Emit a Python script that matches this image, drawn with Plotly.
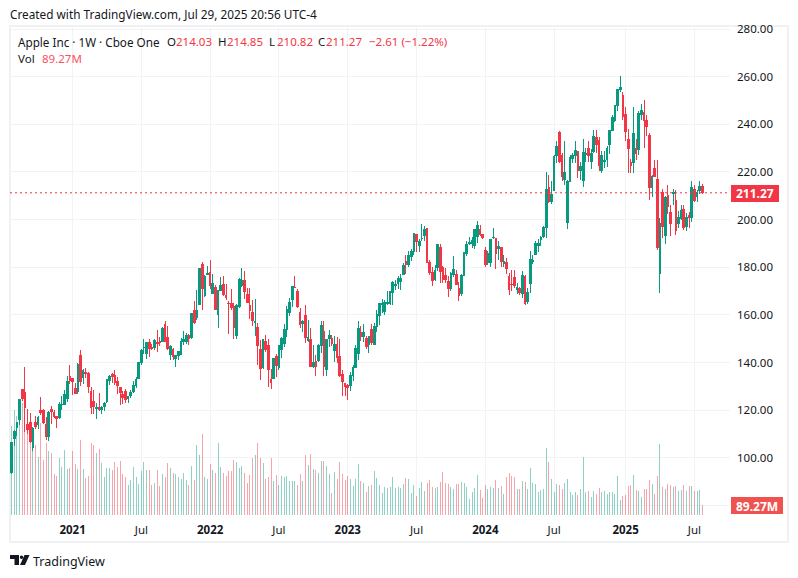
import pandas as pd
import plotly.graph_objects as go

# weekly AAPL bars, one entry per week
dates = pd.date_range("2020-07-27", periods=262, freq="7D")

opens = [93.7,108.2,112.6,116,128.7,127.6,113.9,114.7,104.5,115,113.9,120,120,114,109.1,120.5,118.9,117.2,117,122.3,
 122.6,125,134,133.5,129.2,127.8,143,133.8,136,135.5,128,123.8,120.9,121,120.3,121.7,123.9,132.5,135,134.8,
 132,129.4,126.8,127.8,125,126.2,127.8,130.3,133.4,140,146.2,143.8,148.3,146.4,146.2,148.5,149,148.9,156,150.6,
 143.4,145.5,141.8,143,143.5,148.7,149,151.4,150.4,161.7,159,164.3,181.1,168.3,177,177.8,169,171.5,160,170.2,
 172.9,168,165,164.7,163.4,151.5,163.5,172.2,174.6,168.7,163.9,161,156.7,154.9,145.5,137.8,149,147,132.9,133.4,
 142.7,137.8,145.7,147.9,154,161,166.4,171.5,169.7,161,156.5,159.6,149.3,149.7,138.2,140.4,141,147.2,153,137,
 150.2,150,145.1,147.8,142.7,135.1,131.4,130.3,130.5,134.8,138.1,144,152.6,151,150.2,147.7,153.8,147.8,155.1,159.9,
 164.3,161.4,165,165,169.3,172.5,173.2,174,177,182.6,181.3,184.4,186.8,193.8,189.3,191.9,193.4,196.2,182.1,178,
 175,180,188.3,180,176.5,174.2,171.2,176.8,176.8,170.9,169,176.4,185.8,189.9,189.8,189,193,196,193.6,187.2,
 182,182.2,192.3,192,188,188.4,181.8,182.2,176,172.9,175.6,170.6,171.2,169,176,165.5,173.4,182.4,185.4,189.3,
 191.5,192.9,196.9,213.4,207.7,212.1,227,236.5,227,217,199,216,225.7,226.8,228.5,220.8,216.5,227.3,230,224.5,
 228.7,234.5,233.3,220.8,224.5,225.3,231.5,237.3,241.8,248,254.8,252.2,244.3,233.5,224,224,230,229.6,244.2,244.9,
 241.8,235.5,213.3,221.4,217,177.2,211.4,193.3,210,203.1,211,207.9,198.3,200.3,204.4,197.2,201.6,200.8,212.7,209.9,
 212.1,214.03]
highs = [106.4,111.6,115,124.9,128.8,138,120.5,118.8,112.9,117.7,117.7,125.4,120.4,117.3,119.6,122,120,117.6,123.5,126,
 128.4,134.4,138.8,133.6,131.5,139.7,145.1,137.4,137.9,136,129.7,128.7,123.2,127.2,121.7,123.5,133,135,135.5,137.1,
 134,129.5,128,129,125.4,128.5,132.5,133.8,140,145.6,150,148.7,150,148,150,153.5,150.9,155,157.3,155.5,
 147.5,146,143.2,144.9,150.2,153.2,152.4,152,161,165.7,170.3,179.6,182.1,176.9,180.4,182.9,177,172.5,170.4,176,
 176.2,173,166,170.7,165,164.5,175.7,179.6,178.5,171.3,171.3,166.2,166.5,156.7,149.7,149.7,151.7,149.9,137.3,141.9,
 143.5,147.4,150.9,156.3,163.6,167.2,172.2,176.2,171,162.9,157.8,164.3,158,154.7,147.5,143.1,147.9,157.5,157.5,150,
 153.6,151.8,151,150.9,150,137,131.4,130.9,136.2,139,147.2,157.4,155.2,156.3,151.3,151.1,156.3,156.7,162.1,165,
 166.8,166.3,169.9,169.9,174.3,174.6,176.4,177.4,181.8,185,187,187.6,194.5,193.9,191.7,198.2,197.2,196.7,183.1,180,
 181,189.9,189.9,180.4,179.8,176.3,178,184.9,179,174,177,186.6,191,192.9,192.9,196,199.6,197.7,194,188.4,
 187,192,196.4,192.2,191,188.7,185,183.9,177.7,179,178.7,173.6,171.9,178.4,176.6,171.3,187,185.1,191,191.9,
 193,197.3,220.2,218.9,216.1,227,233.1,237.2,228,232.9,216.8,227,228,233,229,224,233.8,230,233,229.8,
 237.5,237.5,234.7,228.7,228.9,230.7,237.8,244,248.2,255,260.1,253.5,247.3,238,225.6,247.2,234,245.6,248.7,250,
 244,236.2,218.8,225,225.2,200.6,212.9,209.8,214.6,206,213,212.6,203.8,206,206,202.6,203.2,216.2,214.7,212.4,
 216.2,214.85]
lows = [93.2,105,109.1,114,123.9,110.9,110,106.1,103.1,112.2,112.2,118.2,114.3,107.7,107.3,114.1,116.8,112.5,116.4,120.2,
 122.3,123.5,131,126.4,126.9,126.9,130.2,130.9,133.7,127.4,118.4,118.4,116.2,119.7,118.6,119.9,123.1,130.6,131.3,130.6,
 126.7,122.3,122.7,123.1,123.1,125.2,127.1,129.2,133.4,139,143.6,141.7,142.5,145.2,145.2,144.5,146.8,148.7,148.7,145.5,
 141.3,141.3,138.3,141,143.2,147.5,147.8,147.5,150,156.4,157.8,164.3,162,167.5,177,171,169,162.3,154.7,170,
 168,166.2,152,162,150,150.1,163,171.8,166.6,164.9,158.5,155.4,151,138.8,132.6,137.4,144.5,129.8,129,133,
 133.8,137,142.1,146.7,150.8,159.6,163.5,171.3,163.1,154.7,152.7,148.4,148.6,138,137.7,134.4,140.3,144.1,134.4,134.4,
 146.6,146.9,140.4,140,134,125.9,125.9,124.2,128.1,132.2,137.9,141.3,149.2,148.6,145.7,143.9,147.6,147.6,153,155.8,
 161,159.8,164,164.3,164.3,170.4,170.9,170.5,176.6,177.4,180,182.6,185.2,186.6,186.6,191,191,181.9,176.6,172,
 174.3,178.5,173.5,173.6,173.6,167.6,170,175.8,172.6,165.7,167.9,176.2,184.9,189.2,188.2,187.5,190,193.2,191.7,180.2,
 180.9,180.3,192,179.3,183,180.3,180,177.4,168.5,170,171.4,168.9,168.2,167.1,164.1,164.8,169.1,181.5,185.3,186.6,
 189.1,192.2,192.2,207,206.6,211.9,223.6,223.8,216.2,214.6,196,216,223.9,223.9,217.5,216.7,213.9,224,224,221.3,
 228,227.8,220.3,219.7,221.5,222.3,227.5,237.2,241,245.7,253.7,241.8,233,219.4,219.5,219.4,225.2,227.2,241.8,230.2,
 235.3,208.4,209.6,217.7,187.3,169.2,192.4,189.8,202.2,193.2,206,193.5,196.3,200,195.7,195.2,196.6,199,207.2,207.5,
 210.9,210.82]
closes = [106.3,111.1,114.9,124.4,124.8,121,112,106.8,112.3,113,116.97,119,115,108.9,119,119.3,117.3,116.6,122.25,122.4,
 126.7,132,132.7,132,127.1,139.1,132,136.8,135.4,129.9,121.3,121.4,121,120.5,121.2,123,133,134.2,134.3,131.5,
 130.2,127.5,125.4,124.6,125.9,127.4,130.5,133.1,140,145.1,146.4,148.6,146,146.1,149.1,148.2,148.6,154.3,149,146.1,
 146.9,142.7,142.9,144.8,148.7,149.8,151.3,150,160.6,156.8,161.8,179.5,171.1,176.3,177.6,172.2,173.1,162.4,170.3,172.4,
 168.6,167.3,164.9,163.2,154.7,164,174.7,174.3,170,165.3,161.8,157.7,157.3,147.1,137.6,149.6,145.4,137.1,131.6,141.7,
 138.9,147,150.2,154.1,162.5,165.4,172.1,171.5,163.6,155.8,157.4,150.7,150.4,138.2,140.1,138.4,147.3,155.7,138.4,149.7,
 151.3,148.1,147.8,142.2,134.5,131.9,129.9,129.6,134.8,137.9,145.9,154.5,151,152.6,146.7,151,148.5,155,160.3,164.9,
 165,165.2,165.1,169.7,173.6,172.6,175.2,175.4,180.96,181,184.9,186.7,194,190.7,190.7,191.9,195.8,182,177.8,174.5,
 178.6,189.5,178.2,175,174.8,171.2,177.5,178.9,172.9,168.2,176.7,186.4,189.7,190.4,191.2,195.7,197.6,193.6,192.5,181.2,
 185.9,191.6,192.4,185.9,188.9,182.3,182.5,179.7,170.7,172.6,172.3,171.5,169.6,176.6,165,169.3,183.4,183,189.9,190,
 192.4,196.9,212.5,207.5,210.6,226.3,230.5,224.3,218,219.9,216.2,226,226.8,229,220.8,222.5,228.2,227.8,226.8,227.6,
 235,231.4,222.9,227,225,229.9,237.3,242.8,248.1,254.5,255.6,243.4,236.9,230,222.8,236,227.6,244.6,245.6,241.8,
 239.1,213.5,218.3,217.9,188.4,198.2,197,209.3,205.4,198.5,211.3,195.3,200.9,203.9,196.5,201,201.1,213.6,208,211.2,
 213.9,211.27]
# volume in millions of shares
volumes = [795,938,884,1027,997,1012,893,902,580,625,515,819,491,640,572,551,366,348,509,426,
 580,411,423,572,456,411,670,411,331,348,643,625,557,586,467,342,420,420,402,473,
 429,485,366,339,268,313,429,339,277,396,473,402,402,268,286,402,259,366,339,467,
 420,378,366,339,322,378,313,268,438,313,625,536,723,339,322,455,402,378,643,429,
 378,348,393,393,491,473,420,438,378,286,360,509,536,643,509,467,322,339,509,304,
 357,268,348,339,348,304,304,304,265,366,304,536,447,545,411,402,378,482,482,438,
 366,196,387,322,473,366,313,348,322,259,322,455,304,283,205,259,270,393,330,268,
 196,250,241,250,339,241,250,
 238,277,327,319,194,268,170,238,295,217,286,313,250,241,250,295,384,286,277,253,
 229,277,277,295,286,253,143,205,241,357,223,152,268,232,250,241,313,241,259,188,
 339,375,348,339,232,232,304,295,232,420,286,277,205,223,232,598,473,322,205,277,
 268,232,286,322,205,179,205,179,232,518,205,214,161,214,188,241,205,214,188,205,
 205,188,348,134,170,179,259,268,357,223,214,161,232,232,313,277,188,348,634,250,
 232,277,268,250,259,214,223,268,214,259,259,214,214,223,89.27]

tick_dates = ["2021-01-04","2021-07-05","2022-01-03","2022-07-04","2023-01-02","2023-07-03","2024-01-01","2024-07-01","2025-01-06","2025-07-07"]
tick_text = ["<b>2021</b>","Jul","<b>2022</b>","Jul","<b>2023</b>","Jul","<b>2024</b>","Jul","<b>2025</b>","Jul"]
price_ticks = [80,100,120,140,160,180,200,220,240,260,280]
price_text = [""] + [f"{p:.2f}" for p in price_ticks[1:]]

UP = "#089981"
DOWN = "#F23645"
GRID = "#F2F3F5"
FONT = "Noto Sans"
W, H = 798, 578
L, R, T, B = 10, 68, 27, 63


def px(x):
    return (x - L) / (W - L - R)


def py(y):
    return 1 - (y - T) / (H - T - B)


def label(x, y, text, color="#131722", size=12, anchor="left"):
    # annotations carry about 2px of padding around the text
    if anchor == "left":
        x -= 2
    return dict(x=px(x), y=py(y), xref="paper", yref="paper", text=text, showarrow=False,
                xanchor=anchor, yanchor="middle", font=dict(family=FONT, size=size, color=color))


vol_colors = [
    "rgba(8,153,129,0.45)" if c >= o else "rgba(242,54,69,0.45)"
    for o, c in zip(opens, closes)
]

week = pd.Timedelta(days=7)
x_range = [dates[0] - 0.64 * week, dates[-1] + 10.47 * week]
# one screen pixel along x, so each volume bar rounds to a single pixel
bar_px = (x_range[1] - x_range[0]).total_seconds() * 1000 / (W - L - R) * 1.001

fig = go.Figure()
fig.add_trace(go.Bar(x=dates, y=volumes, marker=dict(color=vol_colors, line_width=0),
                     width=bar_px, yaxis="y"))
fig.add_trace(go.Candlestick(x=dates, open=opens, high=highs, low=lows, close=closes, yaxis="y2",
                             increasing=dict(line=dict(color=UP, width=1), fillcolor=UP),
                             decreasing=dict(line=dict(color=DOWN, width=1), fillcolor=DOWN),
                             whiskerwidth=0))

annotations = [
    label(10, 14, "Created with TradingView.com, Jul 29, 2025 20:56 UTC-4", size=11.8),
    label(18, 42, "Apple Inc · 1W · Cboe One", size=11.7),
    label(167, 42, "O", size=11.5), label(176, 42, "214.03", DOWN, 11.5),
    label(218, 42, "H", size=11.5), label(227, 42, "214.85", DOWN, 11.5),
    label(269, 42, "L", size=11.5), label(277, 42, "210.82", DOWN, 11.5),
    label(318, 42, "C", size=11.5), label(326, 42, "211.27", DOWN, 11.5),
    label(369, 42, "−2.61 (−1.22%)", DOWN, 11.5),
    label(18, 59, "Vol", size=11.5), label(42, 59, "89.27M", "#F7525F", 11.5),
    label(755, 194, f"<b>{closes[-1]:.2f}</b>", "white", 12, "center"),
    label(757, 506, "<b>89.27M</b>", "white", 12, "center"),
    label(33, 561, "TradingView", "#131722", 12.5),
]

shapes = [
    # chart frame
    dict(type="rect", xref="paper", yref="paper", x0=px(10), x1=px(788), y0=py(542), y1=py(26),
         line=dict(color="#F0F1F3", width=2), layer="below"),
    # last price line
    dict(type="line", xref="paper", yref="y2", x0=0, x1=1, y0=closes[-1], y1=closes[-1],
         line=dict(color=DOWN, width=1, dash="2px,3px")),
    dict(type="rect", xref="paper", yref="paper", x0=px(731), x1=px(779), y0=py(202), y1=py(185),
         fillcolor=DOWN, line_width=0),
    dict(type="rect", xref="paper", yref="paper", x0=px(731), x1=px(783), y0=py(514), y1=py(497),
         fillcolor="#EF5350", line_width=0),
    # logo
    dict(type="rect", xref="paper", yref="paper", x0=px(10), x1=px(19), y0=py(559), y1=py(555),
         fillcolor="#131722", line_width=0),
    dict(type="rect", xref="paper", yref="paper", x0=px(14.5), x1=px(19), y0=py(565), y1=py(555),
         fillcolor="#131722", line_width=0),
    dict(type="circle", xref="paper", yref="paper", x0=px(19.8), x1=px(23.3), y0=py(559), y1=py(555.5),
         fillcolor="#131722", line_width=0),
    dict(type="path", xref="paper", yref="paper",
         path=f"M {px(24.5)} {py(555)} L {px(29.5)} {py(555)} L {px(25)} {py(565)} L {px(20)} {py(565)} Z",
         fillcolor="#131722", line_width=0),
]

fig.update_layout(
    width=W, height=H, autosize=False,
    margin=dict(l=L, r=R, t=T, b=B),
    paper_bgcolor="white", plot_bgcolor="white",
    showlegend=False, bargap=0, boxgap=0.1,
    font=dict(family=FONT, size=12, color="#131722"),
    xaxis=dict(type="date", range=x_range,
               rangeslider=dict(visible=False), tickmode="array", tickvals=tick_dates, ticktext=tick_text,
               showgrid=True, gridcolor=GRID, gridwidth=1, zeroline=False, showline=False, ticks="",
               ticklabelstandoff=6, tickfont=dict(family=FONT, size=11.5, color="#131722")),
    yaxis=dict(range=[0, 4358], showticklabels=False, showgrid=False, zeroline=False, showline=False),
    yaxis2=dict(range=[76.06, 280.84], overlaying="y", side="right", tickmode="array",
                tickvals=price_ticks, ticktext=price_text, showgrid=True, gridcolor=GRID, gridwidth=1,
                zeroline=False, showline=False, ticks="", ticklabelstandoff=6,
                tickfont=dict(family=FONT, size=11.5, color="#131722")),
    annotations=annotations,
    shapes=shapes,
)

# drop the default body margin so the figure fills the window, and keep candles sharp
post = """
document.body.style.margin = '0';
document.querySelectorAll('.boxes path, .bars path').forEach(function (p) {
    p.style.shapeRendering = 'crispEdges';
});
"""
fig.write_html("out.html", config={"displayModeBar": False}, post_script=post)
